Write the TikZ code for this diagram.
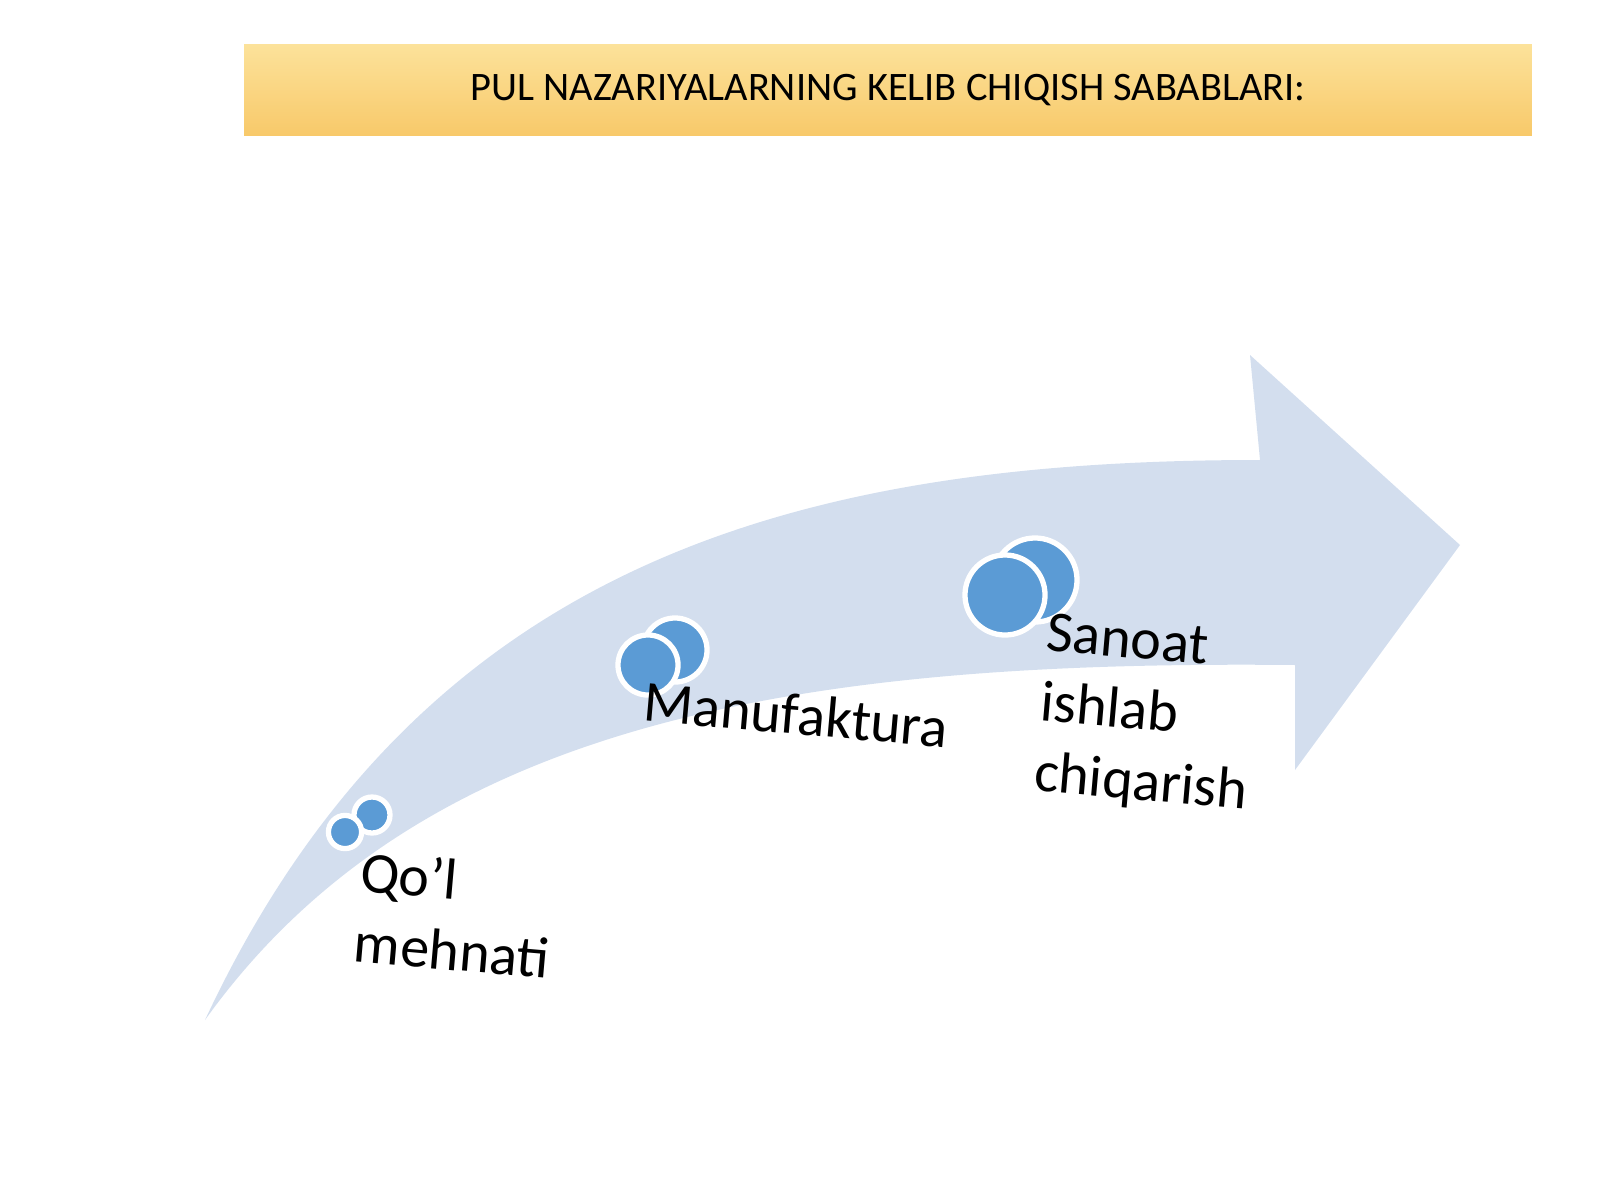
\documentclass[tikz,border=0pt]{standalone}
\usepackage{fontspec}
\setmainfont{Carlito}
\definecolor{bandblue}{HTML}{D3DEEE}
\definecolor{dotblue}{HTML}{5B9BD5}
\definecolor{bannertop}{HTML}{FCE29A}
\definecolor{bannerbot}{HTML}{F8C96A}
\begin{document}
\begin{tikzpicture}
	[ x=0.01cm,y=-0.01cm,
		banner/.style={rectangle,draw=none,top color=bannertop,bottom color=bannerbot,minimum width=12.87cm,minimum height=0.9cm,font=\fontsize{11.5}{14}\selectfont},
		stage/.style={align=left,rotate=-5,font=\fontsize{16.5}{20}\selectfont,inner sep=0pt},
		dot/.style={circle,fill=dotblue,draw=white,line width=1.5pt}]
	\useasboundingbox (0,0) rectangle (1600,1200);
	\fill[bandblue] (205,1020) .. controls (420,720) and (800,660) .. (1295,665)
		-- (1295,770) -- (1460,545) -- (1250,355) -- (1260,460)
		.. controls (800,460) and (420,560) .. (205,1020) -- cycle;
	\node[banner] (title) at (888,90) {PUL NAZARIYALARNING KELIB CHIQISH SABABLARI:};
	% circles
	\node[dot,minimum size=0.36cm] (q2) at (372,815) {};
	\node[dot,minimum size=0.28cm] (q1) at (345,832) {};
	\node[dot,minimum size=0.64cm] (m2) at (675,650) {};
	\node[dot,minimum size=0.6cm] (m1) at (648,665) {};
	\node[dot,minimum size=0.84cm] (s2) at (1035,580) {};
	\node[dot,minimum size=0.8cm] (s1) at (1005,595) {};
	% labels
	\node[stage,anchor=north west] (qol) at (362,850) {Qo’l\\mehnati};
	\node[stage,anchor=north west] (manuf) at (645,680) {Manufaktura};
	\node[stage,anchor=north west] (sanoat) at (1048,612) {Sanoat\\ishlab\\chiqarish};
\end{tikzpicture}
\end{document}
